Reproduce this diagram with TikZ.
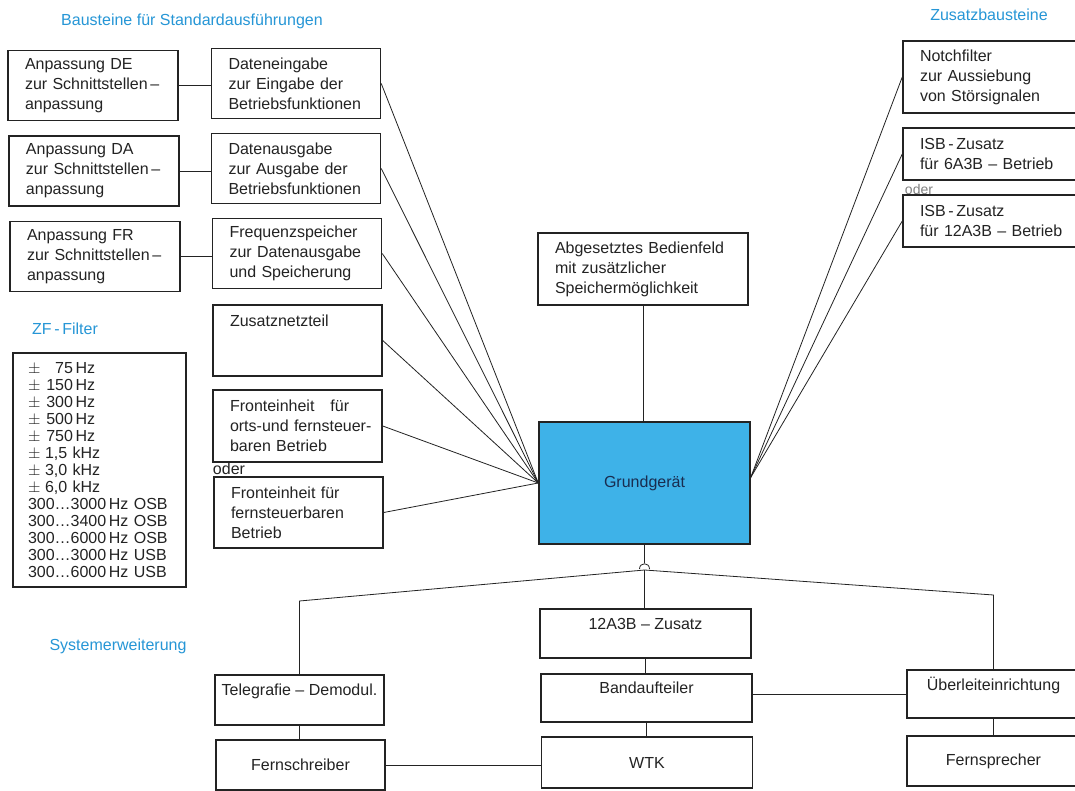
\documentclass[tikz,border=0pt]{standalone}
\usepackage{fontspec}
\setmainfont{Liberation Sans}

\definecolor{titleblue}{RGB}{38,150,214}
\definecolor{grundblue}{RGB}{62,178,232}
\definecolor{grundtext}{RGB}{25,45,80}
\definecolor{inkgray}{RGB}{35,35,35}

% one line of the ZF filter list
\newcommand{\zfline}[2]{\makebox[12.75pt][l]{$\pm$}\makebox[21pt][r]{#1}\,#2}

\begin{document}
\begin{tikzpicture}[x=0.75pt, y=-0.75pt,
  every node/.style={text=inkgray},
  title/.style={text=titleblue, font=\fontsize{12}{15}\selectfont},
  blk/.style={draw=inkgray, line width=1.1pt, font=\fontsize{12}{15}\selectfont, inner xsep=12.75pt, inner ysep=1pt, align=left},
  leftblk/.style={blk, text width=102pt, minimum height=52.5pt},
  midblk/.style={blk, text width=101.25pt, minimum height=52.5pt},
  zusblk/.style={blk, text width=107.25pt},
  sysblk/.style={blk, inner xsep=2pt, align=center},
  con/.style={draw=inkgray, line width=0.6pt},
  oder/.style={font=\fontsize{12}{15}\selectfont, inner sep=0pt}
]

\useasboundingbox[fill=white] (0,0) rectangle (1075,791);

% titles
\node[title] (tstd) at (192,21) {Bausteine für Standardausführungen};
\node[title] (tzus) at (989,15) {Zusatzbausteine};
\node[title] (tzf) at (65,329) {ZF\,-\,Filter};
\node[title] (tsys) at (118,646) {Systemerweiterung};

% Bausteine fuer Standardausfuehrungen
\node[leftblk] (de) at (93,85.5) {Anpassung DE\\zur Schnittstellen\,--\\anpassung};
\node[leftblk] (da) at (94,171) {Anpassung DA\\zur Schnittstellen\,--\\anpassung};
\node[leftblk] (fr) at (95,256.5) {Anpassung FR\\zur Schnittstellen\,--\\anpassung};

\node[midblk] (dein) at (296,83.5) {Dateneingabe\\zur Eingabe der\\Betriebsfunktionen};
\node[midblk] (daus) at (296,168.5) {Datenausgabe\\zur Ausgabe der\\Betriebsfunktionen};
\node[midblk] (fsp) at (297,253.5) {Frequenzspeicher\\zur Datenausgabe\\und Speicherung};
\node[midblk, minimum height=53.25pt] (zn) at (297.5,340.5) {Zusatznetzteil\\~\\~};
\node[midblk, minimum height=54pt] (fe1) at (297.5,426) {\mbox{Fronteinheit \ \ für}\\\mbox{orts-und fernsteuer-}\\\mbox{baren Betrieb}};
\node[oder] (oder1) at (229,469) {oder};
\node[midblk, minimum height=53.25pt] (fe2) at (298.5,512.5) {Fronteinheit für\\fernsteuerbaren\\Betrieb};

\draw[con] (de.east) -- (de.east -| dein.west);
\draw[con] (da.east) -- (da.east -| daus.west);
\draw[con] (fr.east) -- (fr.east -| fsp.west);

% ZF-Filter
\node[blk, inner xsep=11.25pt, text width=107.25pt, minimum height=175.5pt, font=\fontsize{12}{12.75}\selectfont] (zf) at (99.5,470) {%
\zfline{75}{Hz}\\
\zfline{150}{Hz}\\
\zfline{300}{Hz}\\
\zfline{500}{Hz}\\
\zfline{750}{Hz}\\
\makebox[12.75pt][l]{$\pm$}1,5 kHz\\
\makebox[12.75pt][l]{$\pm$}3,0 kHz\\
\makebox[12.75pt][l]{$\pm$}6,0 kHz\\
300\ldots3000\,Hz OSB\\
300\ldots3400\,Hz OSB\\
300\ldots6000\,Hz OSB\\
300\ldots3000\,Hz USB\\
300\ldots6000\,Hz USB};

% Grundgeraet
\node[blk, text width=132pt, minimum height=54pt] (abg) at (643,269) {Abgesetztes Bedienfeld\\mit zusätzlicher\\Speichermöglichkeit};
\node[draw=inkgray, line width=1.1pt, fill=grundblue, text=grundtext, font=\fontsize{12}{15}\selectfont,
      minimum width=158.25pt, minimum height=91.5pt] (grund) at (644.5,483) {Grundgerät};
\draw[con] (abg.south) -- (abg.south |- grund.north);

% Zusatzbausteine
\node[zusblk, minimum height=54pt] (notch) at (991.5,77) {Notchfilter\\zur Aussiebung\\von Störsignalen};
\node[zusblk, minimum height=39pt] (isb6) at (991.5,154) {ISB\,-\,Zusatz\\für 6A3B -- Betrieb};
\node[oder, font=\fontsize{10.5}{12}\selectfont, text=gray] (oder2) at (919,189) {oder};
\node[zusblk, minimum height=39pt] (isb12) at (991.5,221) {ISB\,-\,Zusatz\\für 12A3B -- Betrieb};

\foreach \n in {dein,daus,fsp,zn,fe1,fe2}
  \draw[con] (\n.east) -- (grund.west);
\foreach \n in {notch,isb6,isb12}
  \draw[con] (\n.west) -- (grund.3);

% Systemerweiterung
\node[sysblk, minimum width=158.25pt, minimum height=36.75pt] (a12) at (645.5,633.5) {12A3B -- Zusatz\\~};
\node[sysblk, minimum width=158.25pt, minimum height=36pt] (band) at (646.5,698) {Bandaufteiler\\~};
\node[sysblk, minimum width=158.25pt, minimum height=38.25pt] (wtk) at (647,762.5) {WTK};
\node[sysblk, minimum width=126.75pt, minimum height=37.5pt] (tele) at (299.5,700) {Telegrafie -- Demodul.\\~};
\node[sysblk, minimum width=126.75pt, minimum height=37.5pt] (fern) at (300.5,765) {Fernschreiber};
\node[sysblk, minimum width=129.75pt, minimum height=36pt] (ueber) at (993.5,694) {Überleiteinrichtung\\~};
\node[sysblk, minimum width=129.75pt, minimum height=37.5pt] (fspr) at (993.5,761) {Fernsprecher};

\coordinate (hop) at (644.5,563);
\coordinate (hub) at (644.5,570);
\coordinate (tl) at (299.5,601);
\coordinate (tr) at (993.5,595);

\draw[con] (grund.south) -- (hop);
\draw[con] (639.5,569) .. controls (639.5,562) and (649.5,562) .. (649.5,569);
\draw[con] (tele.north) -- (tl) -- (hub) -- (tr) -- (ueber.north);
\draw[con] (hub) -- (hub |- a12.north);
\draw[con] (a12.south) -- (a12.south |- band.north);
\draw[con] (band.south) -- (band.south |- wtk.north);
\draw[con] (tele.south) -- (tele.south |- fern.north);
\draw[con] (fern.east) -- (fern.east -| wtk.west);
\draw[con] (ueber.west -| band.east) -- (ueber.west);
\draw[con] (ueber.south) -- (ueber.south |- fspr.north);

\end{tikzpicture}
\end{document}
